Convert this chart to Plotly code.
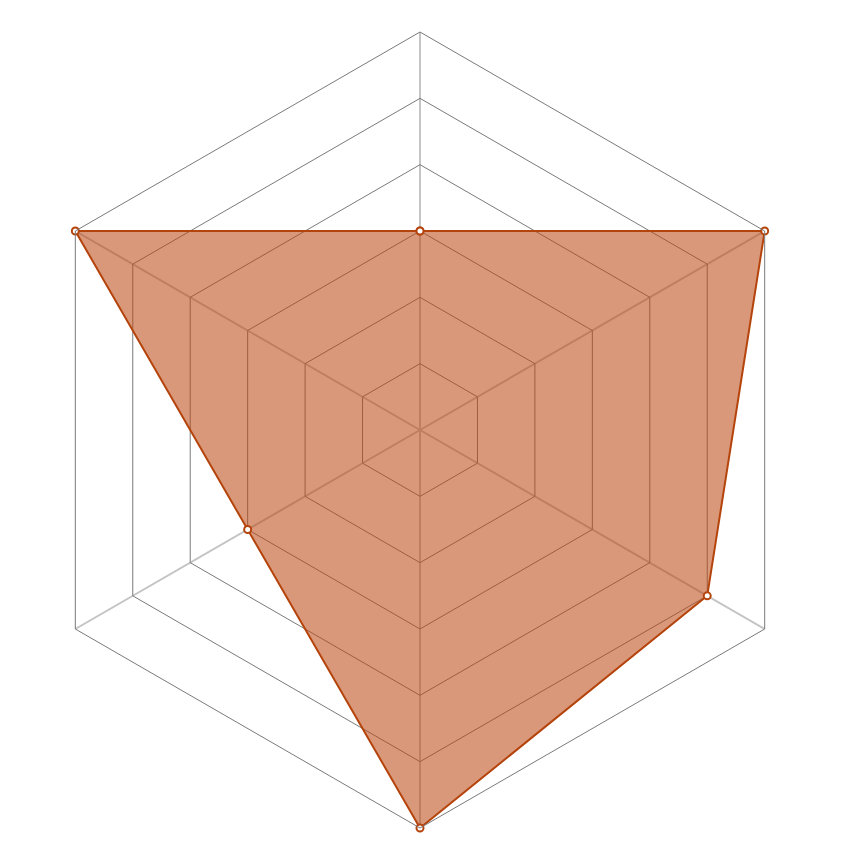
import plotly.graph_objects as go

categories = ["A", "B", "C", "D", "E", "F"]
values = [3, 6, 5, 6, 3, 6]

fig = go.Figure()
fig.add_trace(go.Scatterpolar(
    r=values + values[:1],
    theta=categories + categories[:1],
    mode="lines+markers",
    fill="toself",
    fillcolor="rgba(188,72,18,0.56)",
    line=dict(color="#b5440c", width=2),
    marker=dict(size=7, color="white", line=dict(color="#b5440c", width=2)),
    showlegend=False,
))

fig.update_layout(
    width=860, height=860,
    paper_bgcolor="white",
    margin=dict(l=14, r=50, t=24, b=40),
    polar=dict(
        bgcolor="white",
        gridshape="linear",
        domain=dict(x=[0, 1], y=[0, 1]),
        radialaxis=dict(range=[0, 6], dtick=1, showticklabels=False, ticks="",
                        showline=False, gridcolor="#7a7a7a", gridwidth=1),
        angularaxis=dict(rotation=90, direction="clockwise", showticklabels=False,
                         ticks="", showline=True, linecolor="#7a7a7a", linewidth=1,
                         gridcolor="#c4c4c4", gridwidth=1.5),
    ),
)

fig.write_html("out.html")
